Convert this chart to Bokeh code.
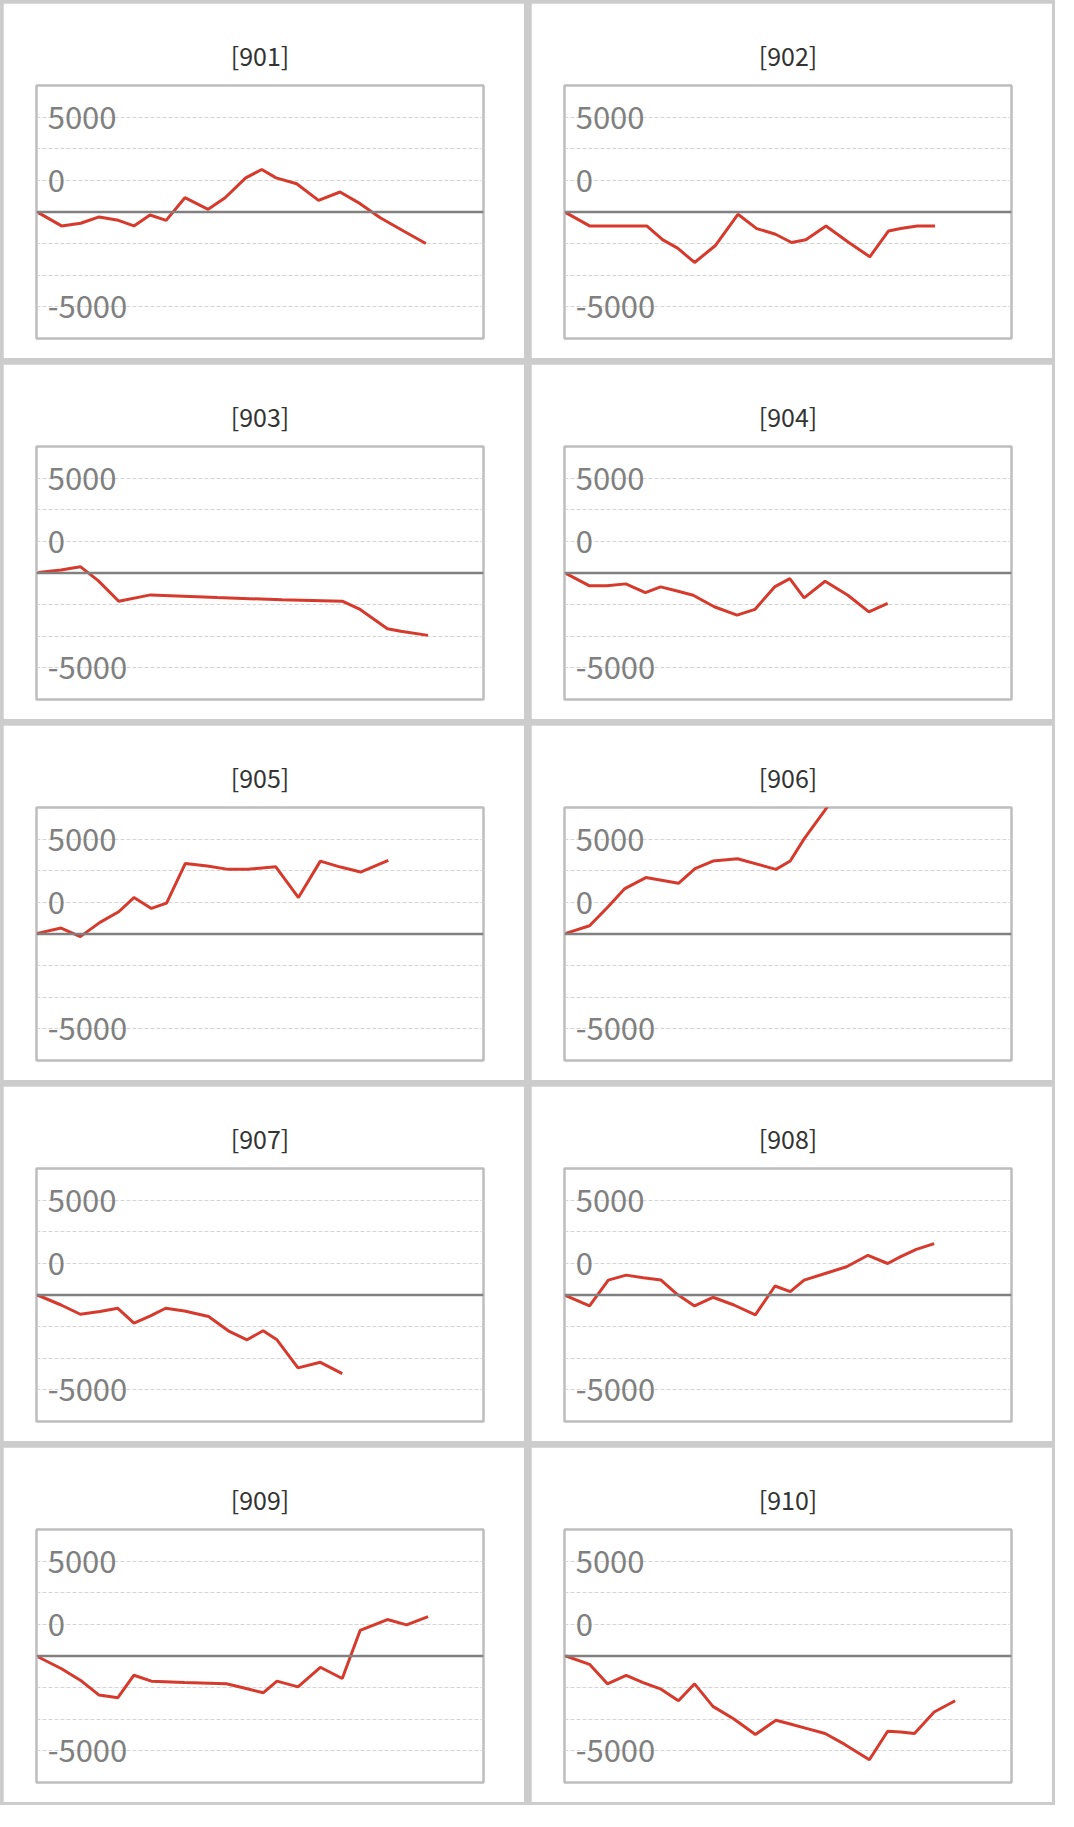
from bokeh.plotting import figure
from bokeh.layouts import column, row
from bokeh.models import FixedTicker, Span, ColumnDataSource
from bokeh.core.properties import value
from bokeh.embed import file_html
from bokeh.resources import INLINE

titles = ["[901]", "[902]", "[903]", "[904]", "[905]", "[906]", "[907]", "[908]", "[909]", "[910]"]

x901 = [0.4,5.6,9.9,14.0,18.3,21.8,25.4,29.0,33.2,38.4,42.2,46.8,50.4,53.6,58.2,63.1,67.9,72.4,76.9,82.1,87.1]
y901 = [-50,-1100,-890,-390,-660,-1100,-240,-660,1130,210,1130,2700,3360,2700,2230,920,1580,660,-450,-1500,-2490]
x902 = [0.3,5.6,18.4,22.0,25.3,29.1,33.7,38.8,43.0,47.2,50.8,54.0,58.5,63.6,68.3,72.5,75.2,78.9,82.9]
y902 = [-50,-1100,-1100,-2200,-2860,-3990,-2670,-180,-1310,-1760,-2410,-2200,-1100,-2410,-3540,-1500,-1310,-1100,-1100]
x903 = [0.4,5.5,9.8,13.8,18.4,25.5,40.4,54.9,68.4,72.4,78.5,81.5,87.6]
y903 = [50,240,500,-600,-2230,-1730,-1940,-2120,-2230,-2880,-4400,-4610,-4930]
x904 = [0.4,5.5,9.5,13.7,18.1,21.5,25.2,28.8,33.5,38.6,42.6,47.0,50.4,53.6,58.3,63.4,68.1,72.3]
y904 = [-50,-1000,-1000,-860,-1550,-1100,-1420,-1760,-2670,-3330,-2880,-1100,-450,-1970,-650,-1760,-3070,-2410]
x905 = [0.2,5.5,9.8,14.2,18.4,21.8,25.7,29.1,33.3,38.2,42.9,47.3,53.5,58.6,63.5,68.0,72.5,78.7]
y905 = [50,470,-210,920,1760,2880,2020,2440,5580,5370,5110,5110,5320,2880,5760,5290,4900,5820]
x906 = [0.3,5.6,9.6,13.5,18.2,25.5,29.2,33.2,38.7,47.3,50.5,53.6,58.2,62.0]
y906 = [50,650,2100,3590,4460,4010,5170,5770,5950,5110,5770,7520,9750,11660]
x907 = [0.2,5.5,9.8,14.2,18.2,21.8,25.5,28.9,33.1,38.5,42.9,47.1,50.7,53.8,58.5,63.5,68.4]
y907 = [0,-790,-1520,-1310,-1050,-2230,-1650,-1050,-1260,-1700,-2830,-3540,-2830,-3540,-5760,-5320,-6210]
x908 = [0.3,5.6,9.8,13.8,17.6,21.6,25.2,29.1,33.2,37.9,42.7,47.1,50.5,53.6,58.3,63.1,67.9,72.3,75.1,78.7,82.7]
y908 = [-50,-860,1180,1570,1360,1180,50,-860,-180,-790,-1570,710,260,1180,1700,2230,3140,2490,3010,3610,4060]
x909 = [0.4,5.5,9.8,14.0,18.2,21.8,25.7,33.1,42.5,46.9,50.7,53.8,58.5,63.5,68.4,72.4,78.5,82.8,87.6]
y909 = [-80,-990,-1910,-3090,-3300,-1520,-1990,-2100,-2200,-2570,-2910,-1990,-2440,-890,-1780,2020,2880,2460,3120]
x910 = [0.3,5.6,9.6,13.8,17.6,21.6,25.5,29.1,33.2,37.9,42.7,47.3,50.5,54.3,58.3,62.7,68.2,72.3,75.2,78.3,82.7,87.4]
y910 = [0,-660,-2200,-1540,-2100,-2620,-3540,-2200,-3980,-4980,-6210,-5080,-5370,-5740,-6130,-6990,-8200,-5950,-6000,-6130,-4430,-3540]

series = [(x901, y901), (x902, y902), (x903, y903), (x904, y904), (x905, y905),
          (x906, y906), (x907, y907), (x908, y908), (x909, y909), (x910, y910)]

label_texts = ["5000", "0", "-5000"]
label_pos = [7500, 2500, -7500]
grid_ticks = [-7500, -5000, -2500, 2500, 5000, 7500]

W, H = 521, 355


def panel(title, xs, ys):
    p = figure(width=W, height=H, x_range=(0, 100), y_range=(-10000, 10000),
               output_backend="svg", toolbar_location=None,
               min_border_left=33, min_border_right=41, min_border_top=82, min_border_bottom=20)
    p.title.text = title
    p.title.align = "center"
    p.title.text_font = "Noto Sans CJK JP"
    p.title.text_font_size = "25px"
    p.title.text_font_style = "normal"
    p.title.text_color = "#333333"
    p.title.standoff = 26
    p.xaxis.visible = False
    p.yaxis.visible = False
    p.xgrid.visible = False
    p.yaxis.ticker = FixedTicker(ticks=grid_ticks)
    p.ygrid.ticker = FixedTicker(ticks=grid_ticks)
    p.ygrid.grid_line_color = "#d4d4d4"
    p.ygrid.grid_line_dash = "4 2"
    p.ygrid.grid_line_width = 1
    p.outline_line_color = "#bdbdbd"
    p.outline_line_width = 2.5
    p.background_fill_color = "white"
    p.border_fill_color = "white"
    p.add_layout(Span(location=0, dimension="width", line_color="#808080", line_width=2.5))
    src = ColumnDataSource(dict(x=[2.5] * 3, y=label_pos, t=label_texts))
    p.text(x="x", y="y", text="t", source=src, text_font=value("Noto Sans CJK JP"),
           text_font_size="31px", text_color="#808080", text_baseline="middle", text_align="left")
    p.line(xs, ys, line_color="#d63a2c", line_width=3)
    return p

panels = [panel(t, *s) for t, s in zip(titles, series)]
rows = [row(panels[i], panels[i + 1], spacing=7) for i in range(0, 10, 2)]
layout = column(*rows, spacing=6, styles={"background-color": "#cccccc", "padding": "3px"})

open("out.html", "w").write(file_html(layout, INLINE))
